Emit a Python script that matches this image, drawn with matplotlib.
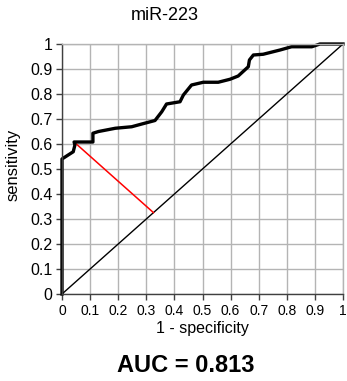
import matplotlib
matplotlib.use("Agg")
import matplotlib.pyplot as plt

fpr = [0, 0, 0, 0.022, 0.04, 0.046, 0.043, 0.11, 0.11, 0.13, 0.19, 0.248, 0.284,
       0.331, 0.355, 0.372, 0.42, 0.432, 0.461, 0.503, 0.556, 0.598, 0.627,
       0.663, 0.667, 0.681, 0.716, 0.776, 0.817, 0.889, 0.918, 1.0]
tpr = [0, 0.48, 0.54, 0.556, 0.569, 0.596, 0.608, 0.608, 0.643, 0.65, 0.663,
       0.669, 0.68, 0.694, 0.729, 0.76, 0.769, 0.796, 0.836, 0.847, 0.847,
       0.859, 0.872, 0.909, 0.936, 0.956, 0.959, 0.976, 0.989, 0.989, 1.0, 1.0]
opt_point = (0.043, 0.608)
diag_point = (0.3255, 0.3255)
ticks = [0, 0.1, 0.2, 0.3, 0.4, 0.5, 0.6, 0.7, 0.8, 0.9, 1]
tick_labels = ["0", "0.1", "0.2", "0.3", "0.4", "0.5", "0.6", "0.7", "0.8", "0.9", "1"]
title = "miR-223"
auc_text = "AUC = 0.813"

plt.rcParams['font.family'] = ['Liberation Sans', 'DejaVu Sans']

W, H = 347, 381
fig = plt.figure(figsize=(W / 100, H / 100), dpi=100)
ax = fig.add_axes([62 / W, 1 - 294 / H, (343 - 62) / W, (294 - 44) / H])

ax.set_xlim(0, 1)
ax.set_ylim(0, 1)
ax.grid(True, color='#b4b4b4', linewidth=1.0)
ax.set_axisbelow(True)
ax.plot([0, 1], [0, 1], color='black', linewidth=1.0)
ax.plot([opt_point[0], diag_point[0]], [opt_point[1], diag_point[1]], color='#ff0000', linewidth=1.1)
ax.plot(fpr, tpr, color='black', linewidth=2.4, solid_joinstyle='round', clip_on=False)

ax.set_xticks(ticks)
ax.set_xticklabels(tick_labels, fontsize=10)
ax.set_yticks(ticks)
ax.set_yticklabels(tick_labels, fontsize=11.5)
ax.tick_params(axis='both', direction='out', length=4, width=1, color='#404040', pad=3)

for s in ['top', 'right']:
    ax.spines[s].set_color('#b4b4b4')
    ax.spines[s].set_linewidth(1.0)
for s in ['left', 'bottom']:
    ax.spines[s].set_color('#404040')
    ax.spines[s].set_linewidth(1.0)

ax.set_xlabel("1 - specificity", fontsize=11.5, labelpad=2)
fig.text(13 / W, 1 - 165 / H, "sensitivity", rotation=90, fontsize=12, ha='center', va='center')
fig.text(165 / W, 1 - 16 / H, title, fontsize=13, ha='center', va='center')
fig.text(186 / W, 1 - 366 / H, auc_text, fontsize=17, fontweight='bold', ha='center', va='center')

fig.savefig("out.png", dpi=100)
